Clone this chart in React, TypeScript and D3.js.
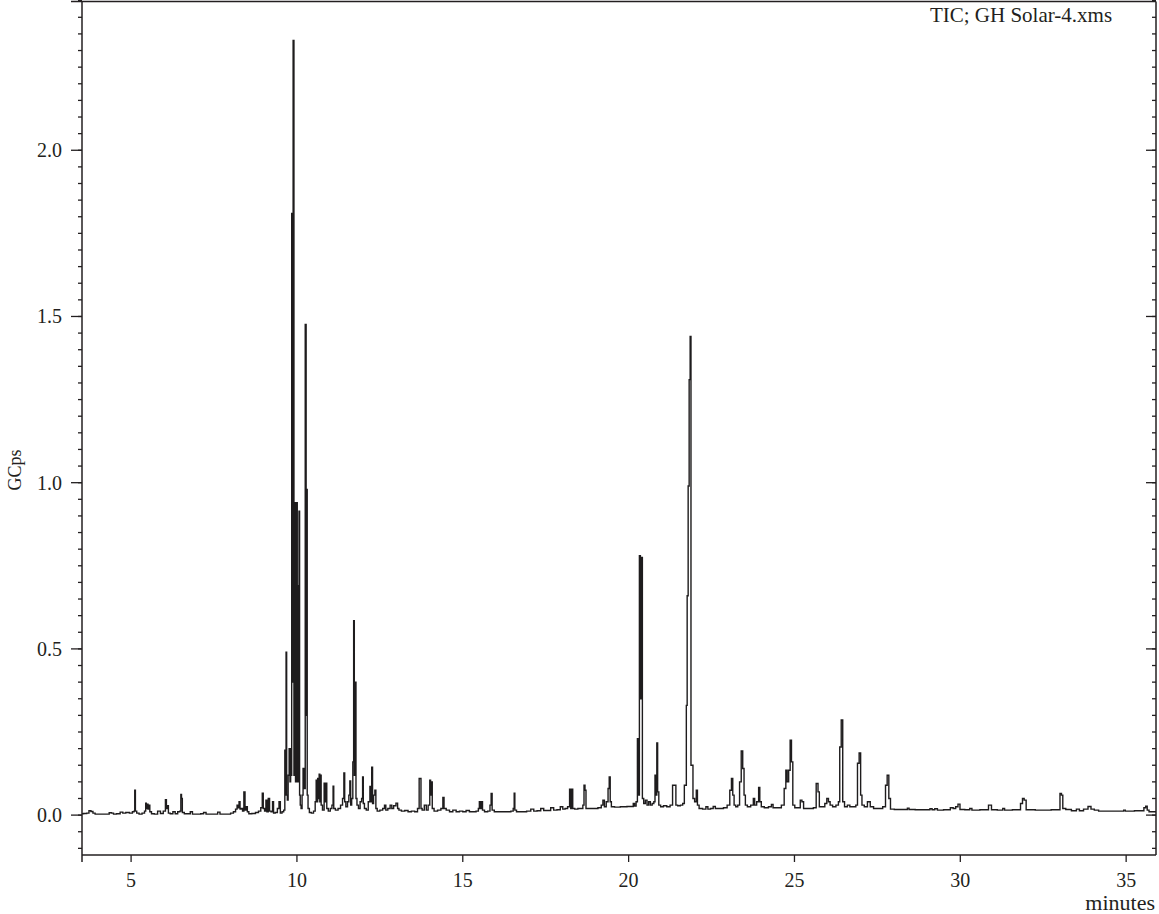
import React from "react";
import * as d3 from "d3";

const W = 1159;
const H = 914;

// x-axis (minutes) tick labels
const xTicks = [5, 10, 15, 20, 25, 30, 35];
// y-axis (GCps) major tick labels
const yTicks = [0.0, 0.5, 1.0, 1.5, 2.0];

// Chromatogram trace: [minutes, GCps]
const earlyTrace: [number, number][] = [
  [3.52,0.004],[3.62,0.005],[3.70,0.006],[3.76,0.013],[3.82,0.011],[3.88,0.006],[3.95,0.003],[4.30,0.003],[4.38,0.007],[4.44,0.006],[4.50,0.003],[4.62,0.004],[4.72,0.009],[4.78,0.006],[4.90,0.008],[5.00,0.006],[5.08,0.01],[5.10,0.012],[5.12,0.075],[5.14,0.012],[5.20,0.006],[5.28,0.003],[5.38,0.006],[5.43,0.012],[5.45,0.036],[5.47,0.02],[5.50,0.033],[5.52,0.018],[5.55,0.03],[5.58,0.01],[5.65,0.004],[5.75,0.003],[5.85,0.012],[5.92,0.005],[6.02,0.012],[6.05,0.046],[6.08,0.02],[6.11,0.028],[6.14,0.006],[6.22,0.004],[6.30,0.01],[6.36,0.004],[6.45,0.01],[6.49,0.012],[6.51,0.062],[6.53,0.05],[6.56,0.008],[6.65,0.004],[6.75,0.004],[6.82,0.01],[6.88,0.003],[7.05,0.003],[7.15,0.004],[7.22,0.008],[7.30,0.003],[7.45,0.003],[7.58,0.003],[7.64,0.009],[7.72,0.003],[7.95,0.003],[8.05,0.006],[8.12,0.01],[8.18,0.018],[8.21,0.03],[8.24,0.022],[8.27,0.04],[8.30,0.018],[8.34,0.02],[8.38,0.012],[8.42,0.07],[8.45,0.015],[8.49,0.025],[8.52,0.01],[8.58,0.004],[8.70,0.005],[8.80,0.008],[8.88,0.012],[8.94,0.022],[8.97,0.066],[9.00,0.02],[9.05,0.012],[9.08,0.045],[9.11,0.01],[9.16,0.05],[9.19,0.012],[9.25,0.01],[9.28,0.04],[9.31,0.006],[9.38,0.008],[9.44,0.02],[9.48,0.04],[9.52,0.006],[9.58,0.01],
];

const clusterTrace: [number, number][] = [
  [9.62,0.015],[9.65,0.195],[9.665,0.06],[9.68,0.49],[9.70,0.06],[9.72,0.045],[9.75,0.12],[9.78,0.20],[9.80,0.10],[9.82,0.20],[9.835,0.12],[9.85,1.81],[9.87,0.40],[9.90,2.33],[9.92,0.12],[9.95,0.94],[9.965,0.10],[9.98,0.50],[10.00,0.94],[10.02,0.10],[10.04,0.69],[10.055,0.10],[10.07,0.914],[10.09,0.06],[10.11,0.03],[10.14,0.02],[10.17,0.06],[10.20,0.14],[10.23,0.08],[10.27,1.476],[10.285,0.30],[10.30,0.98],[10.32,0.06],[10.35,0.02],[10.40,0.008],[10.47,0.006],[10.53,0.012],[10.57,0.04],[10.59,0.105],[10.61,0.04],[10.64,0.11],[10.66,0.05],[10.68,0.123],[10.70,0.04],[10.72,0.12],[10.74,0.03],[10.80,0.015],[10.84,0.096],[10.86,0.04],[10.89,0.096],[10.91,0.02],[10.98,0.012],[11.03,0.02],[11.08,0.03],[11.10,0.087],[11.12,0.02],[11.20,0.015],[11.28,0.02],[11.35,0.03],[11.40,0.05],[11.43,0.127],[11.45,0.04],[11.50,0.025],[11.55,0.04],[11.58,0.06],[11.61,0.103],[11.63,0.03],[11.67,0.05],[11.70,0.16],[11.72,0.585],[11.74,0.12],[11.77,0.40],[11.79,0.05],[11.83,0.03],[11.88,0.02],[11.93,0.04],[11.97,0.05],[11.99,0.115],[12.01,0.035],[12.06,0.02],[12.12,0.015],[12.18,0.04],[12.22,0.086],[12.24,0.04],[12.27,0.144],[12.29,0.035],[12.33,0.06],[12.37,0.075],[12.39,0.02],[12.45,0.012],
];

const midTrace: [number, number][] = [
  [12.55,0.015],[12.62,0.02],[12.66,0.03],[12.70,0.015],[12.78,0.02],[12.84,0.03],[12.88,0.02],[12.95,0.028],[13.02,0.036],[13.05,0.02],[13.10,0.015],[13.20,0.012],[13.30,0.014],[13.40,0.01],[13.50,0.012],[13.60,0.01],[13.67,0.02],[13.70,0.11],[13.73,0.11],[13.75,0.02],[13.80,0.015],[13.88,0.03],[13.92,0.015],[13.99,0.03],[14.02,0.105],[14.04,0.06],[14.07,0.10],[14.09,0.02],[14.18,0.012],[14.30,0.015],[14.38,0.02],[14.42,0.053],[14.45,0.02],[14.55,0.015],[14.65,0.01],[14.75,0.015],[14.85,0.01],[14.95,0.012],[15.05,0.01],[15.15,0.014],[15.25,0.01],[15.35,0.01],[15.45,0.012],[15.49,0.02],[15.51,0.04],[15.54,0.02],[15.58,0.04],[15.61,0.015],[15.70,0.01],[15.80,0.012],[15.84,0.03],[15.87,0.065],[15.90,0.015],[16.00,0.01],[16.20,0.01],[16.40,0.01],[16.50,0.012],[16.54,0.02],[16.56,0.066],[16.58,0.015],[16.66,0.01],[16.85,0.01],[17.00,0.012],[17.10,0.018],[17.18,0.012],[17.30,0.013],[17.40,0.02],[17.48,0.014],[17.60,0.014],[17.70,0.022],[17.78,0.015],[17.90,0.016],[17.98,0.025],[18.05,0.018],[18.12,0.02],[18.20,0.025],[18.24,0.078],[18.27,0.02],[18.30,0.078],[18.33,0.02],[18.42,0.018],[18.52,0.02],[18.60,0.02],[18.64,0.03],[18.67,0.09],[18.70,0.075],[18.73,0.02],[18.85,0.02],[19.00,0.02],[19.15,0.022],[19.20,0.03],[19.25,0.045],[19.29,0.025],[19.36,0.04],[19.40,0.08],[19.43,0.115],[19.46,0.04],[19.50,0.025],
];

const lateTrace: [number, number][] = [
  [19.65,0.024],[19.85,0.025],[20.05,0.026],[20.12,0.026],[20.16,0.035],[20.20,0.027],[20.25,0.04],[20.28,0.23],[20.31,0.06],[20.34,0.78],[20.37,0.35],[20.40,0.775],[20.43,0.05],[20.48,0.035],[20.53,0.045],[20.58,0.03],[20.63,0.04],[20.68,0.03],[20.74,0.035],[20.78,0.04],[20.81,0.12],[20.84,0.06],[20.86,0.217],[20.89,0.07],[20.93,0.03],[21.00,0.025],[21.10,0.028],[21.20,0.025],[21.30,0.03],[21.35,0.09],[21.41,0.09],[21.44,0.03],[21.52,0.028],[21.60,0.03],[21.66,0.035],[21.70,0.09],[21.73,0.09],[21.75,0.33],[21.78,0.66],[21.81,0.99],[21.84,1.31],[21.87,1.44],[21.89,0.15],[21.92,0.15],[21.96,0.05],[22.02,0.04],[22.06,0.075],[22.09,0.03],[22.16,0.02],[22.30,0.018],[22.36,0.025],[22.42,0.018],[22.52,0.02],[22.58,0.026],[22.65,0.02],[22.80,0.02],[22.92,0.022],[23.02,0.03],[23.08,0.075],[23.12,0.11],[23.16,0.06],[23.20,0.03],[23.26,0.025],[23.32,0.03],[23.37,0.10],[23.42,0.193],[23.46,0.14],[23.50,0.06],[23.54,0.03],[23.62,0.025],[23.74,0.03],[23.78,0.05],[23.82,0.03],[23.90,0.04],[23.94,0.083],[23.97,0.04],[24.03,0.025],[24.15,0.022],[24.28,0.025],[24.33,0.032],[24.38,0.022],[24.55,0.022],[24.66,0.03],[24.72,0.08],[24.76,0.135],[24.80,0.10],[24.85,0.135],[24.89,0.225],[24.93,0.16],[24.97,0.03],[25.05,0.022],[25.15,0.022],[25.20,0.045],[25.25,0.04],[25.30,0.02],[25.42,0.02],[25.52,0.02],[25.62,0.022],[25.69,0.095],[25.73,0.07],[25.77,0.025],[25.88,0.025],[25.95,0.035],[26.00,0.05],[26.05,0.04],[26.10,0.03],[26.20,0.025],[26.30,0.03],[26.35,0.04],[26.38,0.205],[26.44,0.286],[26.47,0.04],[26.55,0.025],[26.64,0.03],[26.70,0.025],[26.82,0.025],[26.88,0.03],[26.92,0.156],[26.98,0.187],[27.01,0.06],[27.06,0.03],[27.15,0.025],[27.25,0.04],[27.32,0.025],[27.45,0.02],[27.60,0.02],[27.72,0.025],[27.77,0.09],[27.82,0.12],[27.87,0.05],[27.92,0.018],[28.10,0.017],[28.38,0.017],[28.43,0.021],[28.48,0.017],[28.80,0.016],[29.05,0.016],[29.12,0.019],[29.18,0.016],[29.28,0.019],[29.34,0.015],[29.65,0.016],[29.75,0.022],[29.82,0.02],[29.90,0.025],[29.96,0.033],[30.02,0.017],[30.25,0.016],[30.32,0.02],[30.38,0.015],[30.80,0.016],[30.90,0.03],[30.98,0.016],[31.25,0.015],[31.31,0.02],[31.36,0.015],[31.78,0.016],[31.85,0.035],[31.90,0.05],[31.95,0.045],[32.02,0.016],[32.50,0.015],[32.98,0.016],[33.03,0.065],[33.07,0.06],[33.11,0.02],[33.25,0.017],[33.45,0.013],[33.55,0.018],[33.63,0.013],[33.80,0.018],[33.90,0.026],[33.98,0.018],[34.10,0.015],[34.24,0.012],[34.50,0.012],[34.90,0.012],[34.95,0.015],[35.00,0.012],[35.50,0.013],[35.57,0.022],[35.61,0.027],[35.66,0.015],[35.72,0.01],[35.90,0.01],
];

const title = "TIC; GH Solar-4.xms";
const xLabel = "minutes";
const yLabel = "GCps";

const INK = "#231f20";
const FONT = "'Liberation Serif', 'Times New Roman', serif";

export default function App() {
  const left = 82, right = 1156, top = 2, bottom = 855;
  const x = d3.scaleLinear().domain([3.52, 35.9]).range([left, right]);
  const y = d3.scaleLinear().domain([-0.12, 2.446]).range([bottom, top]);

  const trace = [...earlyTrace, ...clusterTrace, ...midTrace, ...lateTrace];
  const line = d3.line<[number, number]>().x(d => x(d[0])).y(d => y(d[1])).curve(d3.curveStep);

  const minor = d3.range(-0.1, 2.4501, 0.05).map(v => Math.round(v * 100) / 100);

  return (
    <svg width={W} height={H} style={{ position: "absolute", left: 0, top: 0, background: "#fff" }}
      fontFamily={FONT}>
      <rect x={0} y={0} width={W} height={H} fill="#fff" />
      {/* frame */}
      <line x1={71} x2={right} y1={1.5} y2={1.5} stroke={INK} strokeWidth={1.5} />
      <line x1={left} x2={left} y1={1.5} y2={862} stroke={INK} strokeWidth={1.5} />
      <line x1={right} x2={right} y1={1.5} y2={bottom} stroke={INK} strokeWidth={1.5} />
      <line x1={left} x2={right} y1={bottom} y2={bottom} stroke={INK} strokeWidth={1.5} />
      {/* y minor ticks */}
      {minor.map(v => (
        <g key={"m" + v}>
          <line x1={left - 4} x2={left} y1={y(v)} y2={y(v)} stroke={INK} strokeWidth={1.3} />
          <line x1={right - 4} x2={right} y1={y(v)} y2={y(v)} stroke={INK} strokeWidth={1.3} />
        </g>
      ))}
      {yTicks.map(v => (
        <g key={"y" + v}>
          <line x1={left - 11} x2={left} y1={y(v)} y2={y(v)} stroke={INK} strokeWidth={1.3} />
          <line x1={right - 10} x2={right} y1={y(v)} y2={y(v)} stroke={INK} strokeWidth={1.3} />
          <text x={62} y={y(v)} textAnchor="end" dominantBaseline="central" fontSize={20} fill={INK}>
            {v.toFixed(1)}
          </text>
        </g>
      ))}
      {xTicks.map(v => (
        <g key={"x" + v}>
          <line x1={x(v)} x2={x(v)} y1={bottom} y2={bottom + 7} stroke={INK} strokeWidth={1.3} />
          <text x={x(v)} y={887} textAnchor="middle" fontSize={20} fill={INK}>{v}</text>
        </g>
      ))}
      <text x={1155} y={910} textAnchor="end" fontSize={22} fill={INK}>{xLabel}</text>
      <text transform={`translate(21,${470}) rotate(-90)`} textAnchor="middle" fontSize={18} fill={INK}>{yLabel}</text>
      <text x={1021} y={22} textAnchor="middle" fontSize={21} fill={INK}>{title}</text>
      <path d={line(trace) || ""} fill="none" stroke="#1e1c1d" strokeWidth={1.4} strokeLinejoin="miter" />
    </svg>
  );
}
